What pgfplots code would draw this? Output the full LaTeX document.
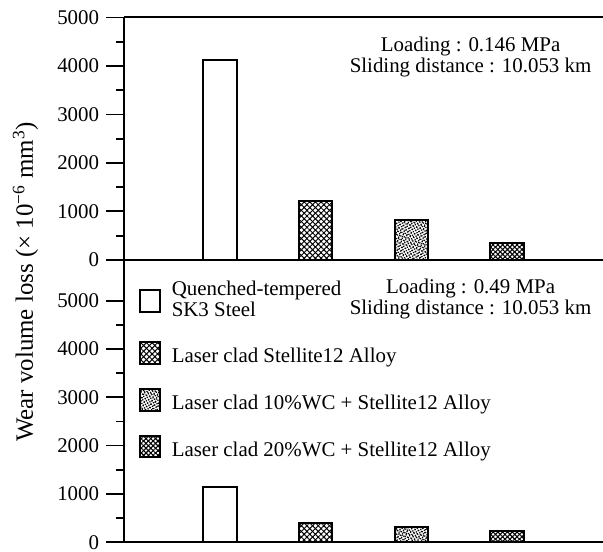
\documentclass[border=0pt]{standalone}
\usepackage{fontspec}
\setmainfont{Liberation Serif}
\usepackage{pgfplots}
\pgfplotsset{compat=1.18}
\usetikzlibrary{patterns.meta}

\newcommand\fs{\fontsize{10.5pt}{10.5pt}\selectfont}

\pgfplotsset{
  wearax/.style={
    scale only axis, width=240.5pt, xmin=0, xmax=5, ymin=0,
    axis x line=box, axis y line=left, axis line style={-, line width=1pt},
    xtick=\empty, ytick={0,1000,...,5000}, minor ytick={500,1500,...,4500},
    tick align=outside, major tick length=9pt, minor tick length=4pt,
    every tick/.style={black, line width=0.9pt},
    tick label style={font=\fs},
    /pgf/number format/assume math mode=true,
    yticklabel style={/pgf/number format/1000 sep={}},
    ybar, bar width=0.35, bar shift=0pt, clip=false,
  },
  sOne/.style={draw=black, line width=1pt, fill=white},
  sTwo/.style={draw=black, line width=1pt, fill=white,
    postaction={pattern={Lines[angle=45,distance=2pt,line width=0.5pt]}},
    postaction={pattern={Lines[angle=-45,distance=2pt,line width=0.5pt]}}},
  sThree/.style={draw=black, line width=1pt, fill=white,
    postaction={pattern={Dots[angle=30,distance=1.3pt,radius=0.45pt]}},
    postaction={pattern={Dots[angle=70,distance=1.7pt,radius=0.4pt]}}},
  sFour/.style={draw=black, line width=1pt, fill=white,
    postaction={pattern={Lines[angle=45,distance=1.7pt,line width=0.55pt]}},
    postaction={pattern={Lines[angle=-45,distance=1.7pt,line width=0.55pt]}}},
}

\begin{document}
\begin{tikzpicture}
% lower panel: 0.49 MPa
\begin{axis}[wearax, height=141.75pt, ymax=5845,
  legend cell align=left,
  legend image code/.code={\draw[#1] (0pt,-3.5pt) rectangle (10pt,7.5pt);},
  legend style={draw=none, fill=none, inner sep=0pt, outer sep=0pt,
    at={(rel axis cs:0.031,0.898)}, anchor=north west,
    row sep=11pt, column sep=5.5pt, font=\fs, nodes={inner sep=0pt}}]
\addplot[sOne] coordinates {(1,1150)};
\addplot[sTwo] coordinates {(2,400)};
\addplot[sThree] coordinates {(3,320)};
\addplot[sFour] coordinates {(4,235)};
\addlegendentry{\raisebox{0pt}[13pt][-3.5pt]{\fontsize{10.5pt}{10pt}\selectfont\begin{tabular}[b]{@{}l@{}}Quenched-tempered\\SK3 Steel\end{tabular}}}
\addlegendentry{\raisebox{0pt}[7.5pt][2.5pt]{Laser clad Stellite12 Alloy}}
\addlegendentry{\raisebox{0pt}[7.5pt][2.5pt]{Laser clad 10\%WC + Stellite12 Alloy}}
\addlegendentry{\raisebox{0pt}[7.5pt][2.5pt]{Laser clad 20\%WC + Stellite12 Alloy}}
\node[font=\fs, anchor=base] at (rel axis cs:0.7235,0.880) {Loading : 0.49 MPa};
\node[font=\fs, anchor=base] at (rel axis cs:0.7235,0.806) {Sliding distance : 10.053 km};
\end{axis}
% upper panel: 0.146 MPa
\begin{axis}[wearax, height=121.75pt, ymax=5000, at={(0pt,141.75pt)}, anchor=south west]
\addplot[sOne] coordinates {(1,4120)};
\addplot[sTwo] coordinates {(2,1210)};
\addplot[sThree] coordinates {(3,825)};
\addplot[sFour] coordinates {(4,343)};
\node[font=\fs, anchor=base] at (rel axis cs:0.7235,0.858) {Loading : 0.146 MPa};
\node[font=\fs, anchor=base] at (rel axis cs:0.7235,0.772) {Sliding distance : 10.053 km};
\end{axis}
\node[rotate=90, font=\fontsize{12.5pt}{12.5pt}\selectfont] at (-49.5pt,130.75pt) {Wear volume loss (× 10\textsuperscript{−6} mm\textsuperscript{3})};
\pgfresetboundingbox
\path[use as bounding box] (-62.3pt,-4.5pt) rectangle (240.5pt,272.25pt);
\end{tikzpicture}
\end{document}
